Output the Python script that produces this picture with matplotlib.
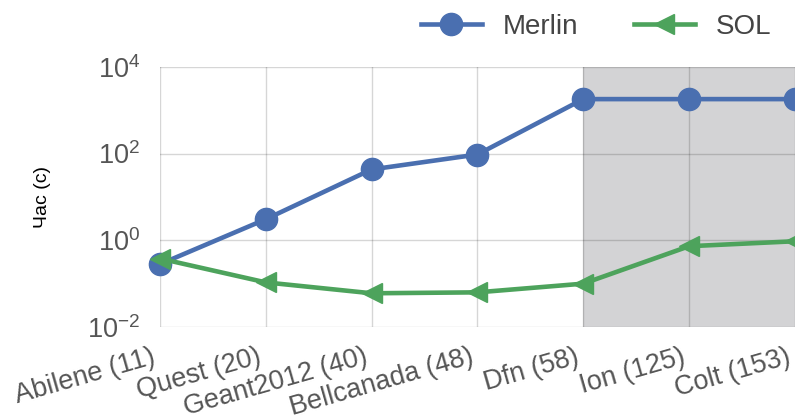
import matplotlib.pyplot as plt
from matplotlib.transforms import ScaledTranslation

# topology names with node counts
topologies = ["Abilene (11)", "Quest (20)", "Geant2012 (40)", "Bellcanada (48)",
              "Dfn (58)", "Ion (125)", "Colt (153)"]
merlin_time = [0.28, 3.05, 43, 95, 1800, 1800, 1800]
sol_time = [0.38, 0.107, 0.06, 0.063, 0.10, 0.73, 0.95]

plt.rcParams['font.family'] = ['Liberation Sans', 'DejaVu Sans']
plt.rcParams['mathtext.fontset'] = 'custom'
plt.rcParams['mathtext.rm'] = 'Liberation Sans'
plt.rcParams['mathtext.it'] = 'Liberation Sans'

fig = plt.figure(figsize=(7.95, 4.15), dpi=100)
ax = fig.add_axes([0.201, 0.212, 0.799, 0.627])

x = list(range(len(topologies)))

# shaded region for the large topologies
ax.axvspan(4, 6, color='#d3d3d5', zorder=0, lw=0)

ax.plot(x, merlin_time, color='#4a6fb0', lw=3.3, marker='o', ms=16,
        label='Merlin', zorder=3, clip_on=False)
ax.plot(x, sol_time, color='#4da35c', lw=3.3, marker='<', ms=15,
        label='SOL', zorder=4, clip_on=False)

ax.set_yscale('log')
ax.set_ylim(1e-2, 1e4)
ax.set_yticks([1e-2, 1e0, 1e2, 1e4])
ax.minorticks_off()
ax.set_xlim(0, 6)
ax.set_xticks(x)

ax.grid(True, color='black', alpha=0.16, lw=1)
ax.set_axisbelow(True)
for s in ax.spines.values():
    s.set_visible(False)
ax.tick_params(axis='both', length=0, colors='#555555')
ax.tick_params(axis='y', pad=14, labelsize=19.5)
ax.tick_params(axis='x', pad=12)

ax.set_xticklabels(topologies, rotation=16, ha='right', rotation_mode='anchor',
                   fontsize=19.5)
# nudge the rotated labels left so they end just before their tick
shift = ScaledTranslation(-6 / 72, 0, fig.dpi_scale_trans)
for lbl in ax.xaxis.get_majorticklabels():
    lbl.set_transform(lbl.get_transform() + shift)

ax.set_ylabel('Час (с)', fontsize=14, color='black', labelpad=26)

ax.legend(loc='lower right', bbox_to_anchor=(0.98, 1.06), ncol=2, frameon=False,
          fontsize=20, handlelength=2.2, handletextpad=0.75, columnspacing=2.0,
          borderaxespad=0, labelcolor='#444444')

fig.savefig('out.png', dpi=100)
